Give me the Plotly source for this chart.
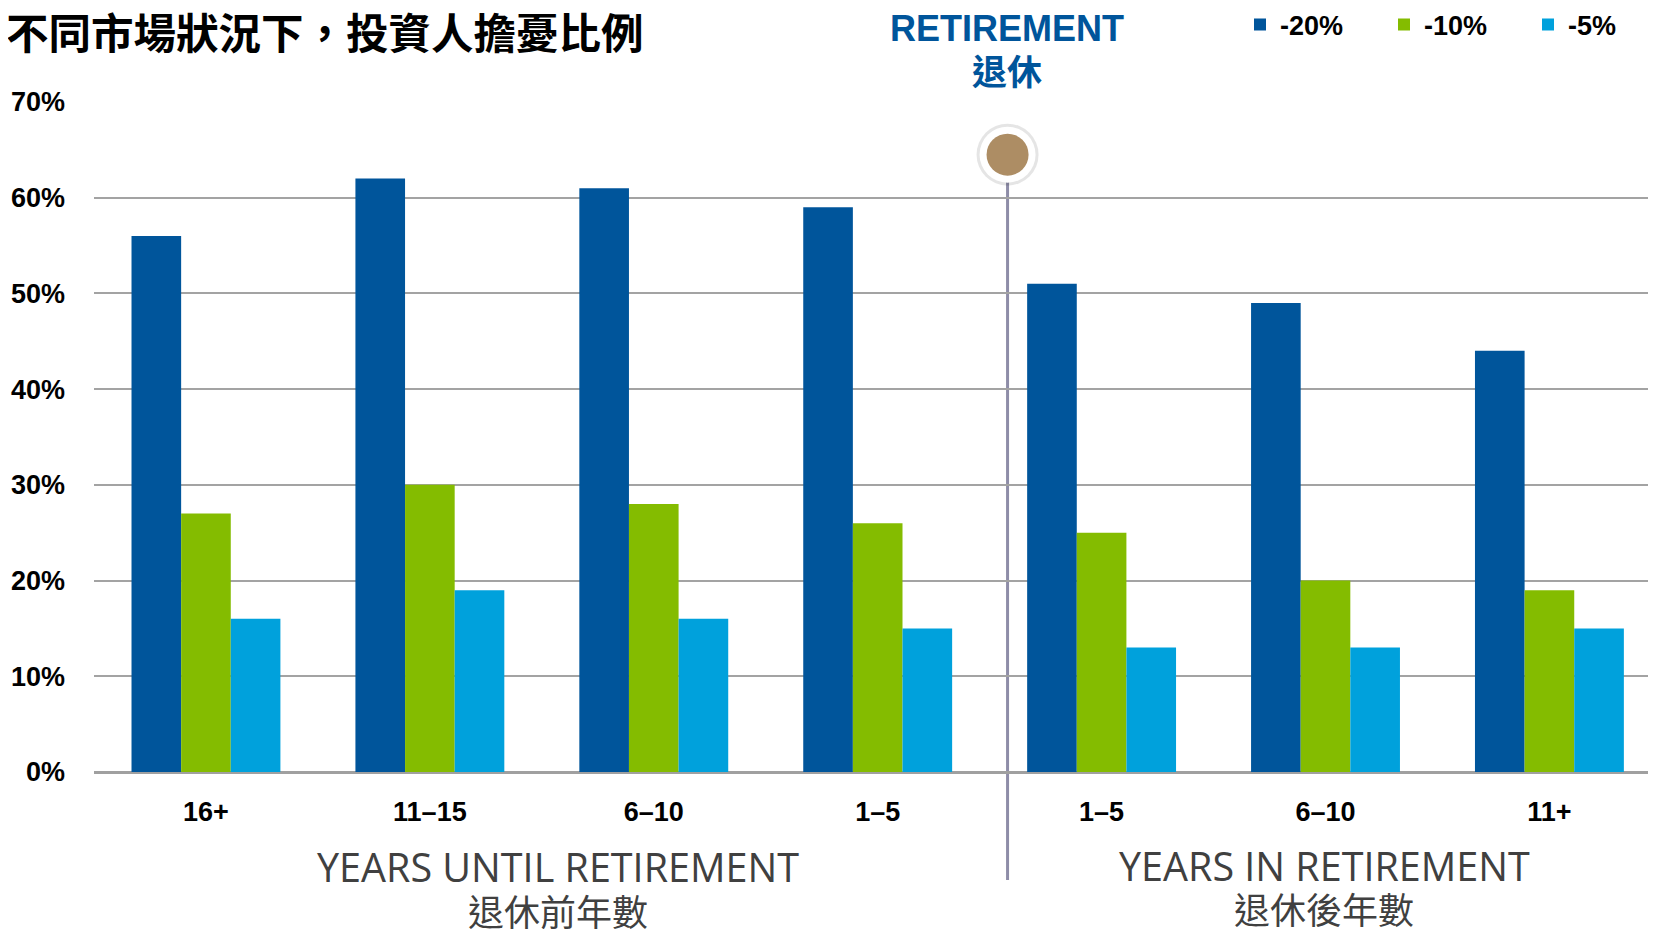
import plotly.graph_objects as go

# ---- data ----
categories = ["16+", "11–15", "6–10", "1–5", "1–5", "6–10", "11+"]
series_names = ["-20%", "-10%", "-5%"]
drop_20 = [56, 62, 61, 59, 51, 49, 44]
drop_10 = [27, 30, 28, 26, 25, 20, 19]
drop_5 = [16, 19, 16, 15, 13, 13, 15]
y_ticks = [0, 10, 20, 30, 40, 50, 60, 70]
y_tick_labels = [f"{v}%" for v in y_ticks]

colors = ["#00559B", "#84BC00", "#00A1DC"]
x_pos = list(range(len(categories)))

BOLD = "Liberation Sans Narrow, Arial Narrow, Liberation Sans, Arial, sans-serif"
CJK = "Noto Sans CJK TC, Noto Sans CJK SC, sans-serif"

# page offset of the figure (body margin)
OFF = 8
W, H = 1656 - OFF, 929 - OFF
L, T, B = 94 - OFF, 102 - OFF, H - (772 - OFF)
PW, PH = W - L, H - T - B

fig = go.Figure()
for name, vals, col in zip(series_names, [drop_20, drop_10, drop_5], colors):
    fig.add_trace(go.Bar(x=x_pos, y=vals, name=name, marker=dict(color=col, line=dict(width=0))))

X_MIN, X_MAX = -0.5, 6.476
RET_X = 3.58
ret_paper_x = (RET_X - X_MIN) / (X_MAX - X_MIN)


def px_x(p):
    """reference page pixel -> paper x"""
    return (p - OFF - L) / PW


def px_y(p):
    """reference page pixel -> paper y"""
    return (H - B - (p - OFF)) / PH


# vertical retirement line
fig.add_shape(type="line", xref="paper", yref="paper", x0=ret_paper_x, x1=ret_paper_x,
              y0=px_y(880), y1=px_y(160), line=dict(color="#8E8DA8", width=3), layer="between")

# retirement marker (shadow, white ring, brown dot)
for size, col in [(62, "rgba(0,0,0,0.10)"), (56, "white"), (42, "#AD8D64")]:
    fig.add_trace(go.Scatter(x=[RET_X], y=[64.5], mode="markers", showlegend=False, hoverinfo="skip",
                             cliponaxis=False,
                             marker=dict(size=size, color=col, line=dict(width=0))))

fig.update_layout(
    width=W, height=H,
    margin=dict(l=L, r=0, t=T, b=B, pad=0, autoexpand=False),
    paper_bgcolor="white", plot_bgcolor="white",
    barmode="group", bargap=0.335, bargroupgap=0,
    showlegend=True,
    legend=dict(orientation="h", x=px_x(1240), y=px_y(25), xanchor="left", yanchor="middle",
                font=dict(family=BOLD, size=27, color="black", weight="bold"),
                entrywidth=99, traceorder="normal",
                bgcolor="rgba(0,0,0,0)"),
    xaxis=dict(range=[X_MIN, X_MAX], tickvals=x_pos, ticktext=categories,
               showgrid=False, zeroline=False, showline=False, ticks="",
               ticklabelstandoff=21,
               tickfont=dict(family=BOLD, size=27, color="black", weight="bold")),
    yaxis=dict(range=[0, 70], tickvals=y_ticks, ticktext=y_tick_labels,
               showgrid=True, gridcolor="#A3A3A3", gridwidth=2,
               zeroline=True, zerolinecolor="#A0A0A0", zerolinewidth=3,
               showline=False, ticks="", ticklabelstandoff=28,
               tickfont=dict(family=BOLD, size=27, color="black", weight="bold")),
)

annotations = [
    dict(text="不同市場狀況下，投資人擔憂比例", x=px_x(4), y=px_y(30), xanchor="left", yanchor="middle",
         font=dict(family=CJK, size=42.5, color="black", weight="bold")),
    dict(text="RETIREMENT", x=px_x(1007), y=px_y(28), xanchor="center", yanchor="middle",
         font=dict(family="Liberation Sans, Arial, sans-serif", size=36, color="#00559B", weight="bold")),
    dict(text="退休", x=px_x(1007), y=px_y(69), xanchor="center", yanchor="middle",
         font=dict(family=CJK, size=35, color="#00559B", weight="bold")),
    dict(text="YEARS UNTIL RETIREMENT", x=px_x(558), y=px_y(867), xanchor="center", yanchor="middle",
         font=dict(family="Open Sans, sans-serif", size=39.5, color="#404040")),
    dict(text="退休前年數", x=px_x(558), y=px_y(910), xanchor="center", yanchor="middle",
         font=dict(family=CJK, size=36, color="#404040")),
    dict(text="YEARS IN RETIREMENT", x=px_x(1324), y=px_y(866), xanchor="center", yanchor="middle",
         font=dict(family="Open Sans, sans-serif", size=39.5, color="#404040")),
    dict(text="退休後年數", x=px_x(1324), y=px_y(908), xanchor="center", yanchor="middle",
         font=dict(family=CJK, size=36, color="#404040")),
]
for a in annotations:
    a.update(xref="paper", yref="paper", showarrow=False)
fig.update_layout(annotations=annotations)

fig.write_html("out.html")
